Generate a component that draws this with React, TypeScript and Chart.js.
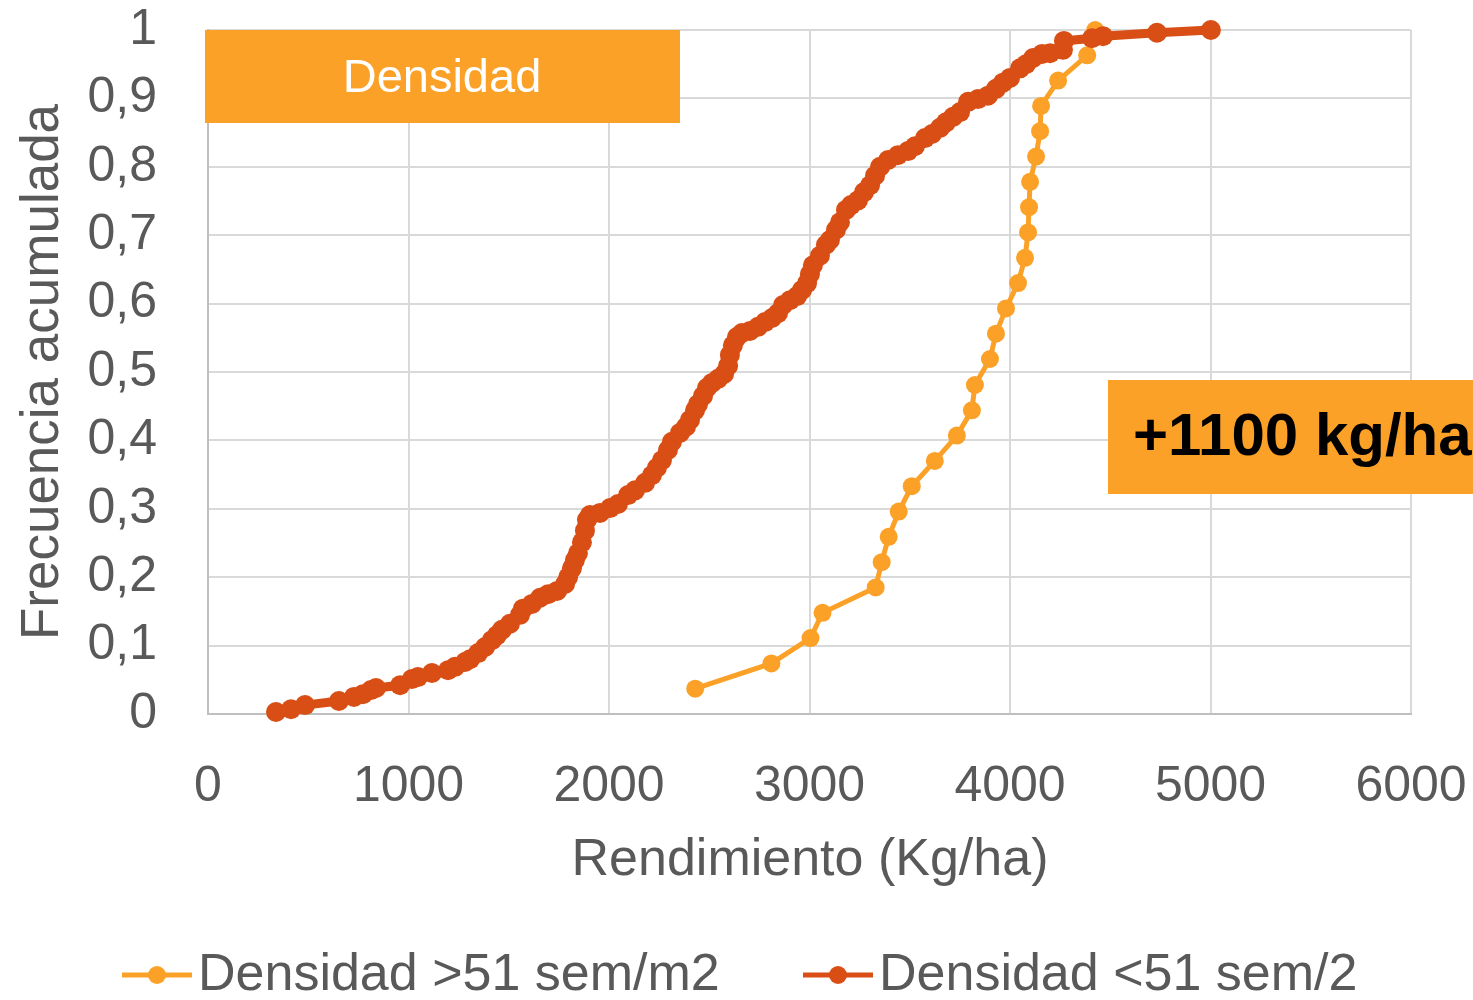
import React, { useEffect, useRef } from "react";
import { Chart, registerables } from "chart.js";

Chart.register(...registerables);

const FONT = '"Liberation Sans", Arial, sans-serif';
const TEXT_COLOR = "#595959";
const HIGH_COLOR = "#FBA128";
const LOW_COLOR = "#D94E15";
const BOX_COLOR = "#FCA127";

const xTicks = [0, 1000, 2000, 3000, 4000, 5000, 6000];
const yTicks = [0, 0.1, 0.2, 0.3, 0.4, 0.5, 0.6, 0.7, 0.8, 0.9, 1];

const seriesLabels = ["Densidad >51 sem/m2", "Densidad <51 sem/2"];
const xTitle = "Rendimiento (Kg/ha)";
const yTitle = "Frecuencia acumulada";
const boxTitle = "Densidad";
const boxDiff = "+1100 kg/ha";

// Densidad >51 sem/m2 : [rendimiento, frecuencia acumulada]
const highDensityPoints: [number, number][] = [
  [2430, 0.037], [2810, 0.074], [3005, 0.111], [3065, 0.148], [3330, 0.185],
  [3360, 0.222], [3395, 0.259], [3445, 0.296], [3510, 0.333], [3625, 0.37],
  [3735, 0.407], [3810, 0.444], [3825, 0.481], [3900, 0.519], [3930, 0.556],
  [3980, 0.593], [4040, 0.63], [4075, 0.667], [4090, 0.704], [4095, 0.741],
  [4100, 0.778], [4130, 0.815], [4150, 0.852], [4155, 0.889], [4240, 0.926],
  [4385, 0.963], [4425, 1.0],
];

// Densidad <51 sem/2 : [rendimiento, frecuencia acumulada]
const lowDensityPoints: [number, number][] = [
  [339, 0.003], [414, 0.007], [484, 0.013], [653, 0.019], [728, 0.025], [773, 0.029],
  [813, 0.035], [838, 0.038], [958, 0.042], [1017, 0.051], [1047, 0.054], [1117, 0.06],
  [1197, 0.064], [1232, 0.069], [1282, 0.076], [1307, 0.08], [1347, 0.089], [1382, 0.098],
  [1416, 0.108], [1441, 0.115], [1466, 0.123], [1506, 0.132], [1556, 0.145], [1571, 0.154],
  [1616, 0.161], [1656, 0.17], [1696, 0.175], [1741, 0.18], [1781, 0.19], [1796, 0.2],
  [1815, 0.213], [1830, 0.225], [1845, 0.235], [1865, 0.251], [1880, 0.268], [1890, 0.284],
  [1905, 0.291], [1955, 0.294], [2005, 0.301], [2045, 0.307], [2095, 0.32], [2130, 0.327],
  [2180, 0.338], [2214, 0.349], [2239, 0.36], [2264, 0.371], [2294, 0.386], [2314, 0.398],
  [2354, 0.411], [2384, 0.42], [2404, 0.43], [2429, 0.444], [2444, 0.453], [2469, 0.465],
  [2489, 0.477], [2514, 0.484], [2544, 0.49], [2574, 0.497], [2594, 0.509], [2603, 0.525],
  [2618, 0.539], [2638, 0.551], [2663, 0.557], [2703, 0.56], [2743, 0.566], [2778, 0.573],
  [2813, 0.579], [2843, 0.586], [2868, 0.598], [2903, 0.605], [2938, 0.611], [2963, 0.62],
  [2988, 0.63], [3002, 0.643], [3017, 0.656], [3052, 0.67], [3082, 0.686], [3102, 0.693],
  [3132, 0.708], [3152, 0.719], [3182, 0.737], [3207, 0.744], [3242, 0.751], [3272, 0.763],
  [3302, 0.773], [3327, 0.787], [3352, 0.8], [3392, 0.81], [3441, 0.817], [3491, 0.823],
  [3526, 0.83], [3576, 0.842], [3611, 0.848], [3651, 0.857], [3681, 0.865], [3716, 0.873],
  [3751, 0.88], [3791, 0.895], [3840, 0.899], [3890, 0.904], [3930, 0.914], [3965, 0.923],
  [4000, 0.93], [4050, 0.944], [4080, 0.95], [4115, 0.959], [4160, 0.965], [4200, 0.966],
  [4264, 0.971], [4269, 0.984], [4409, 0.988], [4464, 0.991], [4733, 0.996], [5002, 1.0],
];

const formatY = (v: number) => {
  const s = Number(v).toFixed(1);
  return s.endsWith(".0") ? s.slice(0, -2) : s.replace(".", ",");
};

const overlayPlugin = {
  id: "overlay",
  afterDraw(chart: any) {
    const ctx = chart.ctx as CanvasRenderingContext2D;
    ctx.save();
    // "Densidad" box
    ctx.fillStyle = BOX_COLOR;
    ctx.fillRect(205, 30, 475, 93);
    ctx.fillStyle = "#FFFFFF";
    ctx.font = `47px ${FONT}`;
    ctx.textAlign = "center";
    ctx.textBaseline = "middle";
    ctx.fillText(boxTitle, 442, 79);

    // "+1100 kg/ha" box
    ctx.fillStyle = BOX_COLOR;
    ctx.fillRect(1108, 380, 420, 114);
    ctx.fillStyle = "#000000";
    ctx.font = `bold 60px ${FONT}`;
    ctx.textAlign = "left";
    ctx.fillText(boxDiff, 1133, 438);

    // axis titles
    ctx.fillStyle = TEXT_COLOR;
    ctx.font = `52px ${FONT}`;
    ctx.textAlign = "center";
    ctx.fillText(xTitle, 810, 861);
    ctx.save();
    ctx.translate(43, 372);
    ctx.rotate(-Math.PI / 2);
    ctx.font = `53px ${FONT}`;
    ctx.fillText(yTitle, 0, 0);
    ctx.restore();

    // legend
    const items = [
      { x: 122, color: HIGH_COLOR, label: seriesLabels[0] },
      { x: 803, color: LOW_COLOR, label: seriesLabels[1] },
    ];
    const ly = 975;
    ctx.font = `52px ${FONT}`;
    items.forEach((it) => {
      ctx.strokeStyle = it.color;
      ctx.lineWidth = 5;
      ctx.beginPath();
      ctx.moveTo(it.x, ly);
      ctx.lineTo(it.x + 70, ly);
      ctx.stroke();
      ctx.fillStyle = it.color;
      ctx.beginPath();
      ctx.arc(it.x + 35, ly, 9, 0, Math.PI * 2);
      ctx.fill();
      ctx.fillStyle = TEXT_COLOR;
      ctx.textAlign = "left";
      ctx.fillText(it.label, it.x + 76, ly + 1);
    });
    ctx.restore();
  },
};

export default function App() {
  const canvasRef = useRef<HTMLCanvasElement | null>(null);

  useEffect(() => {
    document.body.style.margin = "0";
    const canvas = canvasRef.current;
    if (!canvas) return;
    const chart = new Chart(canvas, {
      type: "line",
      data: {
        datasets: [
          {
            label: seriesLabels[1],
            data: lowDensityPoints.map(([x, y]) => ({ x, y })),
            borderColor: LOW_COLOR,
            backgroundColor: LOW_COLOR,
            borderWidth: 9,
            pointRadius: 10,
            pointBorderWidth: 0,
            pointHoverRadius: 10,
            clip: false as any,
            tension: 0,
          },
          {
            label: seriesLabels[0],
            data: highDensityPoints.map(([x, y]) => ({ x, y })),
            borderColor: HIGH_COLOR,
            backgroundColor: HIGH_COLOR,
            borderWidth: 5,
            pointRadius: 9,
            pointBorderWidth: 0,
            pointHoverRadius: 9,
            clip: false as any,
            tension: 0,
          },
        ],
      },
      options: {
        animation: false,
        responsive: false,
        devicePixelRatio: 1,
        layout: { padding: { top: 30, right: 62, left: 0, bottom: 0 } },
        plugins: {
          legend: { display: false },
          tooltip: { enabled: false },
        },
        scales: {
          x: {
            type: "linear",
            min: 0,
            max: 6000,
            afterBuildTicks: (scale: any) => {
              scale.ticks = xTicks.map((v) => ({ value: v }));
            },
            afterFit: (scale: any) => {
              scale.height = 286;
              scale.paddingLeft = 0;
              scale.paddingRight = 0;
            },
            ticks: {
              font: { family: FONT, size: 50 },
              color: TEXT_COLOR,
              padding: 43,
              maxRotation: 0,
              autoSkip: false,
              callback: (v: any) => String(v),
            },
            grid: { color: "#D9D9D9", lineWidth: 2, drawTicks: false },
            border: { color: "#BFBFBF", width: 2 },
          },
          y: {
            type: "linear",
            min: 0,
            max: 1,
            afterBuildTicks: (scale: any) => {
              scale.ticks = yTicks.map((v) => ({ value: v }));
            },
            afterFit: (scale: any) => {
              scale.width = 208;
              scale.paddingTop = 0;
              scale.paddingBottom = 0;
            },
            ticks: {
              font: { family: FONT, size: 50 },
              color: TEXT_COLOR,
              padding: 51,
              autoSkip: false,
              callback: (v: any) => formatY(Number(v)),
            },
            grid: { color: "#D9D9D9", lineWidth: 2, drawTicks: false },
            border: { color: "#BFBFBF", width: 2 },
          },
        },
      },
      plugins: [overlayPlugin],
    } as any);
    return () => chart.destroy();
  }, []);

  return (
    <div style={{ width: 1473, height: 1000, position: "relative" }}>
      <canvas
        ref={canvasRef}
        width={1473}
        height={1000}
        style={{ display: "block", width: 1473, height: 1000 }}
      />
    </div>
  );
}
